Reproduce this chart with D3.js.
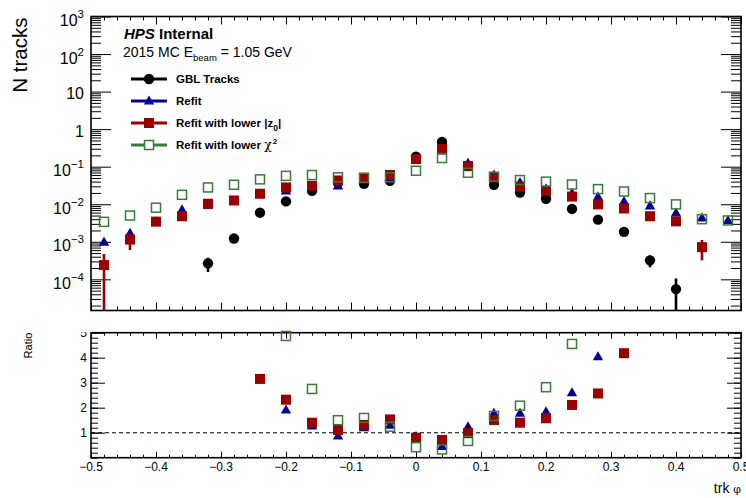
<!DOCTYPE html>
<html>
<head>
<meta charset="utf-8">
<script src="https://cdn.jsdelivr.net/npm/d3@7"></script>
<style>
  body { margin: 0; background: #fff; }
  text { font-family: "Liberation Sans", Arial, Helvetica, sans-serif; fill: #000; }
</style>
</head>
<body>
<script>
//bin centres of trk phi
var phiBins = [-0.48, -0.44, -0.40, -0.36, -0.32, -0.28, -0.24, -0.20, -0.16, -0.12, -0.08, -0.04, 0.00,
               0.04, 0.08, 0.12, 0.16, 0.20, 0.24, 0.28, 0.32, 0.36, 0.40, 0.44, 0.48];

//N tracks per bin (null = empty bin)
var gblVals   = [null, null, null, null, 2.67e-4, 1.22e-3, 5.96e-3, 0.0119, 0.0228, 0.038, 0.035, 0.042, 0.184,
                 0.458, 0.106, 0.033, 0.0205, 0.014, 7.5e-3, 3.9e-3, 1.84e-3, 3.2e-4, 5.5e-5, null, null];
var refitVals = [9.8e-4, 1.7e-3, 3.4e-3, 7.1e-3, 9.5e-3, 0.012, 0.019, 0.0225, 0.027, 0.031, 0.043, 0.05, 0.16,
                 0.265, 0.125, 0.06, 0.038, 0.026, 0.0195, 0.0158, 0.0119, 9.1e-3, 5.85e-3, 4.3e-3, 3.7e-3];
var z0Vals    = [2.4e-4, 1.15e-3, 3.44e-3, 4.8e-3, 0.0103, 0.0126, 0.019, 0.028, 0.031, 0.043, 0.048, 0.06, 0.16,
                 0.296, 0.104, 0.052, 0.0296, 0.0228, 0.016, 9.9e-3, 7.7e-3, 4.8e-3, 3.5e-3, 7.2e-4, null];
var chi2Vals  = [3.4e-3, 5e-3, 8.1e-3, 0.0178, 0.028, 0.033, 0.046, 0.057, 0.06, 0.052, 0.051, 0.052, 0.078,
                 0.17, 0.069, 0.054, 0.044, 0.040, 0.0335, 0.0253, 0.0218, 0.0146, 9.9e-3, 4e-3, 3.7e-3];

//statistical errors (0 = hidden inside marker)
var gblErr   = [0, 0, 0, 0, 1.1e-4, 1.5e-4, 0, 0, 0, 0, 0, 0, 0, 0, 0, 0, 0, 0, 0, 0, 0, 1.1e-4, 5e-5, 0, 0];
var refitErr = [1.5e-4, 2.5e-4, 0, 0, 0, 0, 0, 0, 0, 0, 0, 0, 0, 0, 0, 0, 0, 0, 0, 0, 0, 0, 0, 0, 0];
var z0Err    = [2.3e-4, 5.5e-4, 0, 0, 0, 0, 0, 0, 0, 0, 0, 0, 0, 0, 0, 0, 0, 0, 0, 0, 0, 0, 0, 4e-4, 0];
var chi2Err  = [0, 0, 0, 0, 0, 0, 0, 0, 0, 0, 0, 0, 0, 0, 0, 0, 0, 0, 0, 0, 0, 0, 0, 0, 0];

//ratio to GBL tracks
var ratioRefit = [null, null, null, null, null, null, null, 1.91, 1.27, 0.87, 1.2, 1.3, 0.85,
                  0.45, 1.24, 1.78, 1.78, 1.84, 2.6, 4.04, null, null, null, null, null];
var ratioZ0    = [null, null, null, null, null, null, 3.15, 2.32, 1.4, 1.11, 1.31, 1.53, 0.8,
                  0.71, 0.98, 1.51, 1.4, 1.58, 2.11, 2.57, 4.18, null, null, null, null];
var ratioChi2  = [null, null, null, null, null, null, null, 4.87, 2.75, 1.5, 1.59, 1.24, 0.42,
                  0.33, 0.67, 1.67, 2.08, 2.82, 4.55, null, null, null, null, null, null];

var xTickVals = [-0.5, -0.4, -0.3, -0.2, -0.1, 0, 0.1, 0.2, 0.3, 0.4, 0.5];
var logExps = [-4, -3, -2, -1, 0, 1, 2, 3];
var ratioTickVals = [1, 2, 3, 4, 5];

var legendNames = ["GBL Tracks", "Refit", "Refit with lower |z0|", "Refit with lower chi2"];

var colBlack = "#000000", colBlue = "#000099", colRed = "#990000", colGreen = "#3a7a3a";

var width = 746, height = 498;
var left = 91, right = 741;
var topY0 = 16.5, topY1 = 310.5;
var ratY0 = 332.7, ratY1 = 457.7;

var svg = d3.select("body").append("svg")
    .attr("width", width)
    .attr("height", height);

var x = d3.scaleLinear().domain([-0.5, 0.5]).range([left, right]);
var y = d3.scaleLog().domain([Math.pow(10, -4.83), 1000]).range([topY1, topY0]);
var yr = d3.scaleLinear().domain([0, 5]).range([ratY1, ratY0]);

var defs = svg.append("defs");
defs.append("clipPath").attr("id", "clipTop")
    .append("rect").attr("x", left).attr("y", topY0).attr("width", right - left).attr("height", topY1 - topY0);
defs.append("clipPath").attr("id", "clipRat")
    .append("rect").attr("x", 0).attr("y", ratY0 - 0.5).attr("width", width).attr("height", height - ratY0);

//minor x ticks every 0.02
var xMinor = d3.range(-0.5, 0.5001, 0.02).map(function(d){ return Math.round(d * 100) / 100; });

//log ticks
var logMinor = [];
for (var e = -5; e <= 2; e++){
    for (var k = 2; k <= 9; k++){
        var v = k * Math.pow(10, e);
        if (v >= y.domain()[0] && v <= 1000) logMinor.push(v);
    }
}
var logMajor = logExps.map(function(d){ return Math.pow(10, d); });

function drawAxis(g, axis){
    g.call(axis);
    g.select(".domain").remove();
    g.selectAll("line").attr("stroke", "#000").attr("stroke-width", 1);
}

//---- top panel axes ----
drawAxis(svg.append("g").attr("transform", "translate(0," + topY1 + ")"),
    d3.axisBottom(x).tickValues(xMinor).tickSize(-4).tickFormat(""));
drawAxis(svg.append("g").attr("transform", "translate(0," + topY1 + ")"),
    d3.axisBottom(x).tickValues(xTickVals).tickSize(-8).tickFormat(""));
drawAxis(svg.append("g").attr("transform", "translate(0," + topY0 + ")"),
    d3.axisTop(x).tickValues(xMinor).tickSize(-4).tickFormat(""));
drawAxis(svg.append("g").attr("transform", "translate(0," + topY0 + ")"),
    d3.axisTop(x).tickValues(xTickVals).tickSize(-8).tickFormat(""));
drawAxis(svg.append("g").attr("transform", "translate(" + left + ",0)"),
    d3.axisLeft(y).tickValues(logMinor).tickSize(-10).tickFormat(""));
drawAxis(svg.append("g").attr("transform", "translate(" + left + ",0)"),
    d3.axisLeft(y).tickValues(logMajor).tickSize(-20).tickFormat(""));
drawAxis(svg.append("g").attr("transform", "translate(" + right + ",0)"),
    d3.axisRight(y).tickValues(logMinor).tickSize(-10).tickFormat(""));
drawAxis(svg.append("g").attr("transform", "translate(" + right + ",0)"),
    d3.axisRight(y).tickValues(logMajor).tickSize(-20).tickFormat(""));

//log tick labels
logExps.forEach(function(p){
    var yy = y(Math.pow(10, p));
    var t = svg.append("text").attr("text-anchor", "end").style("font-size", "16px");
    if (p == 0 || p == 1){
        t.attr("x", 84).attr("y", yy + 7.5).text(p == 0 ? "1" : "10");
    } else {
        t.attr("x", 84).attr("y", yy + 9.5);
        t.append("tspan").text("10");
        t.append("tspan").attr("dy", -8).style("font-size", "11.5px")
            .text(p < 0 ? "\u2212" + (-p) : "" + p);
    }
});

svg.append("rect")
    .attr("x", left).attr("y", topY0).attr("width", right - left).attr("height", topY1 - topY0)
    .attr("fill", "none").attr("stroke", "#000").attr("stroke-width", 1.6);

svg.append("text")
    .attr("transform", "translate(26.5," + (topY0 + 1) + ") rotate(-90)")
    .attr("text-anchor", "end")
    .style("font-size", "20.5px")
    .text("N tracks");

//---- ratio panel axes ----
var ratMinor = d3.range(0, 5.001, 0.2).map(function(d){ return Math.round(d * 10) / 10; });
drawAxis(svg.append("g").attr("transform", "translate(0," + ratY1 + ")"),
    d3.axisBottom(x).tickValues(xMinor).tickSize(-3).tickFormat(""));
drawAxis(svg.append("g").attr("transform", "translate(0," + ratY1 + ")"),
    d3.axisBottom(x).tickValues(xTickVals).tickSize(-6).tickFormat(""));
drawAxis(svg.append("g").attr("transform", "translate(0," + ratY0 + ")"),
    d3.axisTop(x).tickValues(xMinor).tickSize(-3).tickFormat(""));
drawAxis(svg.append("g").attr("transform", "translate(0," + ratY0 + ")"),
    d3.axisTop(x).tickValues(xTickVals).tickSize(-6).tickFormat(""));
drawAxis(svg.append("g").attr("transform", "translate(" + left + ",0)"),
    d3.axisLeft(yr).tickValues(ratMinor).tickSize(-7).tickFormat(""));
drawAxis(svg.append("g").attr("transform", "translate(" + left + ",0)"),
    d3.axisLeft(yr).tickValues(ratioTickVals).tickSize(-14).tickFormat(""));
drawAxis(svg.append("g").attr("transform", "translate(" + right + ",0)"),
    d3.axisRight(yr).tickValues(ratMinor).tickSize(-7).tickFormat(""));
drawAxis(svg.append("g").attr("transform", "translate(" + right + ",0)"),
    d3.axisRight(yr).tickValues(ratioTickVals).tickSize(-14).tickFormat(""));

//ratio y labels (top one is cut by the upper pad)
svg.append("g").attr("clip-path", "url(#clipRat)")
    .selectAll("text")
    .data(ratioTickVals)
    .enter()
    .append("text")
    .attr("x", 87)
    .attr("y", function(d){ return yr(d) + 4.5; })
    .attr("text-anchor", "end")
    .style("font-size", "12px")
    .text(function(d){ return d; });

//x labels
svg.selectAll(".xlab")
    .data(xTickVals)
    .enter()
    .append("text")
    .attr("class", "xlab")
    .attr("x", function(d){ return x(d); })
    .attr("y", 470.7)
    .attr("text-anchor", "middle")
    .style("font-size", "12px")
    .text(function(d){ return d < 0 ? "\u2212" + Math.abs(d) : "" + d; });

svg.append("rect")
    .attr("x", left).attr("y", ratY0).attr("width", right - left).attr("height", ratY1 - ratY0)
    .attr("fill", "none").attr("stroke", "#000").attr("stroke-width", 1.6);

//dashed line at 1
svg.append("line")
    .attr("x1", left).attr("x2", right)
    .attr("y1", yr(1)).attr("y2", yr(1))
    .attr("stroke", "#000").attr("stroke-width", 1.1)
    .attr("stroke-dasharray", "4,3");

svg.append("text")
    .attr("transform", "translate(32," + ratY0 + ") rotate(-90)")
    .attr("text-anchor", "end")
    .style("font-size", "11px")
    .text("Ratio");

var xl = svg.append("text")
    .attr("x", 741).attr("y", 493)
    .attr("text-anchor", "end")
    .style("font-size", "14px");
xl.append("tspan").text("trk ");
xl.append("tspan").style("font-family", "'DejaVu Serif', serif").style("font-size", "11px").text("\u03c6");

//---- markers ----
var triPath = "M0,-5.5L5.2,3.6L-5.2,3.6Z";

function drawMarker(g, type, color, cx, cy){
    if (type == "circle"){
        g.append("circle").attr("cx", cx).attr("cy", cy).attr("r", 5.2).attr("fill", color);
    } else if (type == "triangle"){
        g.append("path").attr("d", triPath).attr("transform", "translate(" + cx + "," + cy + ")").attr("fill", color);
    } else if (type == "square"){
        g.append("rect").attr("x", cx - 5).attr("y", cy - 5).attr("width", 10).attr("height", 10).attr("fill", color);
    } else {
        g.append("rect").attr("x", cx - 4.5).attr("y", cy - 4.5).attr("width", 9).attr("height", 9)
            .attr("fill", "none").attr("stroke", color).attr("stroke-width", 1.5);
    }
}

var series = [
    {vals: gblVals, errs: gblErr, ratio: null, color: colBlack, type: "circle"},
    {vals: refitVals, errs: refitErr, ratio: ratioRefit, color: colBlue, type: "triangle"},
    {vals: z0Vals, errs: z0Err, ratio: ratioZ0, color: colRed, type: "square"},
    {vals: chi2Vals, errs: chi2Err, ratio: ratioChi2, color: colGreen, type: "open"}
];

var topG = svg.append("g").attr("clip-path", "url(#clipTop)");
var ratG = svg.append("g");

series.forEach(function(s){
    //error bars
    phiBins.forEach(function(phi, i){
        var v = s.vals[i];
        if (v == null || !s.errs[i]) return;
        var lo = Math.max(v - s.errs[i], 1e-6);
        topG.append("line")
            .attr("x1", x(phi)).attr("x2", x(phi))
            .attr("y1", y(lo)).attr("y2", y(v + s.errs[i]))
            .attr("stroke", s.color).attr("stroke-width", 2.6);
    });
    phiBins.forEach(function(phi, i){
        var v = s.vals[i];
        if (v == null) return;
        drawMarker(topG, s.type, s.color, x(phi), y(v));
    });
    if (s.ratio){
        phiBins.forEach(function(phi, i){
            var r = s.ratio[i];
            if (r == null) return;
            drawMarker(ratG, s.type, s.color, x(phi), yr(r));
        });
    }
});

//---- text and legend ----
var t1 = svg.append("text").attr("x", 124).attr("y", 39).style("font-size", "15px").style("font-weight", "bold");
t1.append("tspan").style("font-style", "italic").text("HPS");
t1.append("tspan").text(" Internal");

var t2 = svg.append("text").attr("x", 123).attr("y", 57).style("font-size", "14px");
t2.append("tspan").text("2015 MC E");
t2.append("tspan").attr("dy", 4).style("font-size", "9.5px").text("beam");
t2.append("tspan").attr("dy", -4).text(" = 1.05 GeV");

var legY = [79, 101, 123, 145];
series.forEach(function(s, i){
    svg.append("line")
        .attr("x1", 131).attr("x2", 167)
        .attr("y1", legY[i]).attr("y2", legY[i])
        .attr("stroke", s.color).attr("stroke-width", 3);
    if (s.type == "open"){
        svg.append("rect").attr("x", 144.5).attr("y", legY[i] - 4.5).attr("width", 9).attr("height", 9).attr("fill", "#fff");
    }
    drawMarker(svg, s.type, s.color, 149, legY[i]);

    var t = svg.append("text")
        .attr("x", 176).attr("y", legY[i] + 4.2)
        .style("font-size", "11.5px").style("font-weight", "bold");
    if (i == 2){
        t.append("tspan").text("Refit with lower |z");
        t.append("tspan").attr("dy", 4).style("font-size", "8.5px").text("0");
        t.append("tspan").attr("dy", -4).text("|");
    } else if (i == 3){
        t.append("tspan").text("Refit with lower ");
        t.append("tspan").style("font-family", "'DejaVu Serif', serif").style("font-weight", "normal").style("font-size", "12.5px").text("\u03c7");
        t.append("tspan").attr("dy", -5).attr("dx", 1).style("font-size", "8px").text("2");
    } else {
        t.text(legendNames[i]);
    }
});
</script>
</body>
</html>
